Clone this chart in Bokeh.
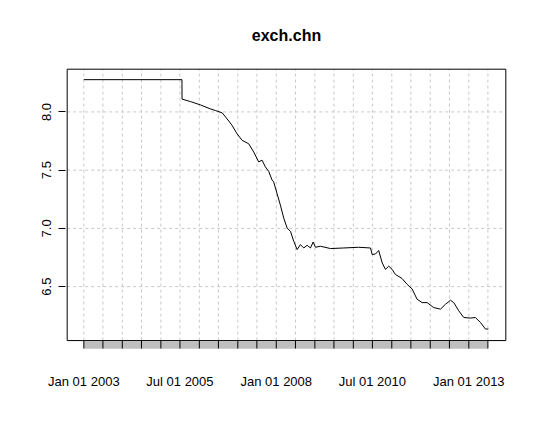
import pandas as pd
from bokeh.plotting import figure
from bokeh.models import FixedTicker, ColumnDataSource, Range1d, PrintfTickFormatter
from bokeh.embed import file_html
from bokeh.resources import INLINE

# ---- data ----
dates = [
    "2003-01-01", "2005-07-20", "2005-07-21", "2005-10-09", "2006-01-12", "2006-04-16",
    "2006-06-03", "2006-08-06", "2006-09-22", "2006-11-08", "2006-12-25", "2007-02-11",
    "2007-04-14", "2007-06-01", "2007-07-18", "2007-08-19", "2007-09-19", "2007-10-21",
    "2007-11-22", "2007-12-07", "2008-01-08", "2008-02-09", "2008-03-12", "2008-04-13",
    "2008-05-15", "2008-06-15", "2008-07-17", "2008-08-17", "2008-09-18", "2008-10-20",
    "2008-11-20", "2008-12-16", "2009-01-07", "2009-02-23", "2009-05-29", "2009-10-02",
    "2010-02-22", "2010-06-13", "2010-06-29", "2010-07-30", "2010-08-30", "2010-10-02",
    "2010-11-02", "2010-12-03", "2011-01-04", "2011-02-04", "2011-04-08", "2011-05-26",
    "2011-07-13", "2011-08-29", "2011-10-16", "2011-12-02", "2012-02-03", "2012-04-07",
    "2012-05-25", "2012-07-11", "2012-08-11", "2012-09-28", "2012-11-14", "2013-01-16",
    "2013-03-04", "2013-04-21", "2013-06-08", "2013-07-06",
]
rates = [
    8.277, 8.277, 8.110, 8.089, 8.060, 8.026,
    8.012, 7.992, 7.940, 7.884, 7.812, 7.756,
    7.727, 7.656, 7.571, 7.586, 7.529, 7.490,
    7.415, 7.400, 7.300, 7.200, 7.088, 7.003,
    6.974, 6.889, 6.818, 6.861, 6.832, 6.855,
    6.832, 6.883, 6.838, 6.847, 6.827, 6.832,
    6.838, 6.832, 6.776, 6.780, 6.810, 6.704,
    6.648, 6.676, 6.648, 6.605, 6.570, 6.520,
    6.480, 6.392, 6.363, 6.363, 6.320, 6.307,
    6.349, 6.383, 6.363, 6.292, 6.235, 6.230,
    6.235, 6.193, 6.136, 6.136,
]
y_ticks = [6.5, 7.0, 7.5, 8.0]
x_tick_labels = {
    "2003-01-01": "Jan 01 2003",
    "2005-07-01": "Jul 01 2005",
    "2008-01-01": "Jan 01 2008",
    "2010-07-01": "Jul 01 2010",
    "2013-01-01": "Jan 01 2013",
}
title = "exch.chn"

# plot box (R's usr region) and the axis band beneath it
box_x = ("2002-07-27", "2013-12-18")
box_y = (6.037, 8.367)
band_y = (5.966, 6.031)
tick_y = (5.969, 6.037)


def ms(d):
    return float((pd.Timestamp(d) - pd.Timestamp("1970-01-01")) // pd.Timedelta("1ms"))


tick_dates = pd.date_range("2003-01-01", "2013-07-01", freq="6MS")
tick_ms = [ms(t) for t in tick_dates]
overrides = {ms(t): x_tick_labels.get(t.strftime("%Y-%m-%d"), "") for t in tick_dates}

src = ColumnDataSource(dict(x=pd.to_datetime(dates), y=rates))

p = figure(width=524, height=408, x_axis_type="datetime",
           output_backend="svg", toolbar_location=None,
           x_range=Range1d(ms("2002-07-11"), ms("2014-01-03")),
           y_range=Range1d(5.9603, 8.3815),
           min_border_left=65, min_border_right=17,
           min_border_top=65, min_border_bottom=59)

p.background_fill_color = "white"
p.border_fill_color = "white"
p.outline_line_color = None

p.title.text = title
p.title.align = "center"
p.title.text_font = "Liberation Sans"
p.title.text_font_size = "16px"
p.title.text_font_style = "bold"
p.title.text_color = "black"
p.title.standoff = 48

# grid (dotted, light grey)
grid_col = "#c8c8c8"
p.segment(x0=tick_ms, x1=tick_ms, y0=[box_y[0]] * len(tick_ms), y1=[box_y[1]] * len(tick_ms),
          line_color=grid_col, line_dash="3 3", line_width=1)
p.segment(x0=[ms(box_x[0])] * len(y_ticks), x1=[ms(box_x[1])] * len(y_ticks),
          y0=y_ticks, y1=y_ticks, line_color=grid_col, line_dash="3 3", line_width=1)

# grey axis band with black tick marks
p.quad(left=[tick_ms[0]], right=[tick_ms[-1]], bottom=[band_y[0]], top=[band_y[1]],
       fill_color="#BEBEBE", line_color=None)
p.segment(x0=tick_ms, x1=tick_ms, y0=[tick_y[0]] * len(tick_ms), y1=[tick_y[1]] * len(tick_ms),
          line_color="black", line_width=1)

# the series
p.line("x", "y", source=src, line_color="black", line_width=1)

# plot box
p.quad(left=[ms(box_x[0])], right=[ms(box_x[1])], bottom=[box_y[0]], top=[box_y[1]],
       fill_color=None, line_color="black", line_width=1)

xa = p.xaxis[0]
xa.ticker = FixedTicker(ticks=tick_ms)
xa.major_label_overrides = overrides
xa.minor_tick_line_color = None
xa.major_tick_line_color = None
xa.axis_line_color = None
xa.major_tick_in = 0
xa.major_tick_out = 0
xa.major_label_standoff = 24
xa.major_label_text_font = "Liberation Sans"
xa.major_label_text_font_size = "13px"
xa.major_label_text_color = "black"

ya = p.yaxis[0]
ya.ticker = FixedTicker(ticks=y_ticks)
ya.formatter = PrintfTickFormatter(format="%.1f")
ya.major_label_orientation = "vertical"
ya.minor_tick_line_color = None
ya.axis_line_color = None
ya.major_tick_in = 0
ya.major_tick_out = 7
ya.major_tick_line_color = "black"
ya.major_label_standoff = 7
ya.major_label_text_font = "Liberation Sans"
ya.major_label_text_font_size = "13px"
ya.major_label_text_color = "black"

p.xgrid.visible = False
p.ygrid.visible = False

open("out.html", "w").write(file_html(p, INLINE))
